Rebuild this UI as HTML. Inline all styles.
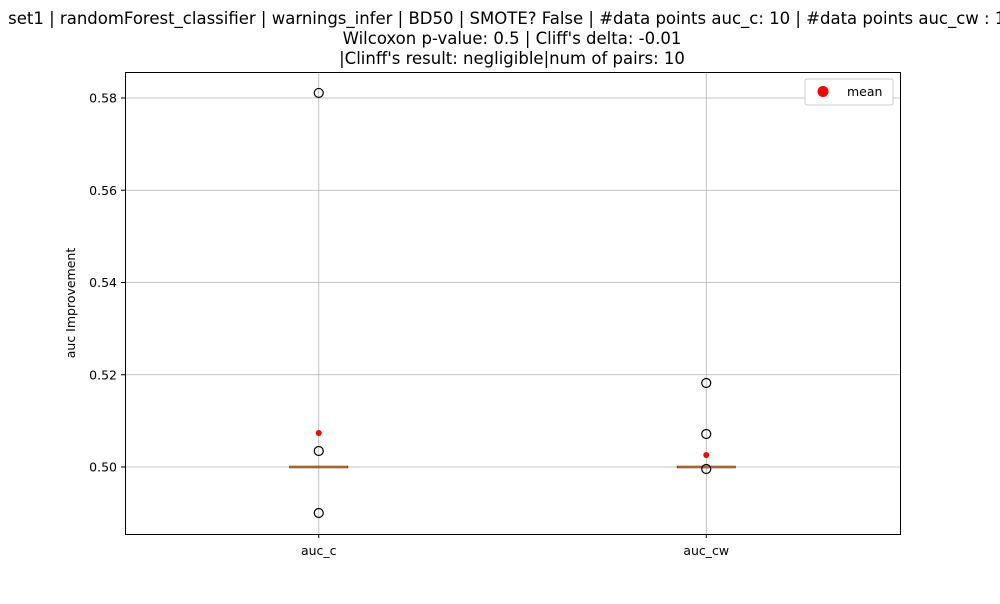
<!DOCTYPE html>
<html><head><meta charset="utf-8"><style>
body{margin:0;background:#fff;font-family:"DejaVu Sans",sans-serif}
svg text{font-family:"DejaVu Sans",sans-serif;fill:#000}
</style></head><body>
<svg id="chart" width="1000" height="600" xmlns="http://www.w3.org/2000/svg">
<rect width="1000" height="600" fill="#fff"/>
<text x="512" y="24" font-size="16.5" text-anchor="middle">set1 | randomForest_classifier | warnings_infer | BD50 | SMOTE? False | #data points auc_c: 10 | #data points auc_cw : 10</text>
<text x="512" y="44" font-size="16.5" text-anchor="middle">Wilcoxon p-value: 0.5 | Cliff's delta: -0.01</text>
<text x="512" y="64" font-size="16.5" text-anchor="middle">|Clinff's result: negligible|num of pairs: 10</text>
<g id="grid"></g>
<g id="marks"></g>
<rect x="125.5" y="72.5" width="775" height="462" fill="none" stroke="#000" stroke-width="1"/>
<text transform="translate(75,303) rotate(-90)" font-size="12.5" text-anchor="middle">auc Improvement</text>
<g>
<rect x="805" y="79" width="88" height="26" rx="2" fill="#fff" stroke="#ccc"/>
<circle cx="823" cy="91.5" r="5.5" fill="red"/>
<text x="847" y="96" font-size="12.5">mean</text>
</g>
</svg>
<script>
const categories=["auc_c","auc_cw"];
const medians=[0.5,0.5];
const outliers=[[0.5811,0.50347,0.49003],[0.51821,0.50715,0.49957]];
const means=[0.50737,0.5026];
const yTicks=[0.50,0.52,0.54,0.56,0.58];
const yTickLabels=["0.50","0.52","0.54","0.56","0.58"];
const NS="http://www.w3.org/2000/svg";
const L=125,R=900,T=72,B=534;
function y(v){return 467-(v-0.5)*4612.5;}
function x(i){return L+(R-L)*(0.25+0.5*i);}
function mk(t,a,p){const e=document.createElementNS(NS,t);for(const k in a)e.setAttribute(k,a[k]);p.appendChild(e);return e;}
const g=document.getElementById('grid'),m=document.getElementById('marks');
yTicks.forEach((v,i)=>{
 const l=mk('line',{x1:L,x2:R,y1:y(v),y2:y(v),stroke:'#b0b0b0','stroke-width':0.8},g);
 
 
 const tk=mk('line',{x1:L-4,x2:L,y1:y(v),y2:y(v),stroke:'#000'},g);
 
 
 const t=mk('text',{x:L-8,y:y(v)+4.5,'font-size':12.5,'text-anchor':'end'},g);
 t.textContent=yTickLabels[i];
 
 
});
categories.forEach((c,i)=>{
 const cx=x(i);
 const l=mk('line',{x1:cx,x2:cx,y1:T,y2:B,stroke:'#b0b0b0','stroke-width':0.8},g);
 
 
 const tk=mk('line',{x1:cx,x2:cx,y1:B,y2:B+4,stroke:'#000'},g);
 
 
 const t=mk('text',{x:cx,y:B+21,'font-size':12.5,'text-anchor':'middle'},g);
 t.textContent=c;
 
 
 const box=mk('rect',{x:cx-29,y:y(medians[i])-0.8,width:58,height:1.6,fill:'none',stroke:'#000','stroke-width':0.8},m);
 
 
 const md=mk('line',{x1:cx-29,x2:cx+29,y1:y(medians[i]),y2:y(medians[i]),stroke:'#e08b2f','stroke-width':1.5},m);
 
 
 outliers[i].forEach(v=>{
  const o=mk('circle',{cx:cx,cy:y(v),r:4.5,fill:'none',stroke:'#000','stroke-width':1.2},m);
  
  
 });
 const mn=mk('circle',{cx:cx,cy:y(means[i]),r:3,fill:'red'},m);
 
 
});
</script>
</body></html>
